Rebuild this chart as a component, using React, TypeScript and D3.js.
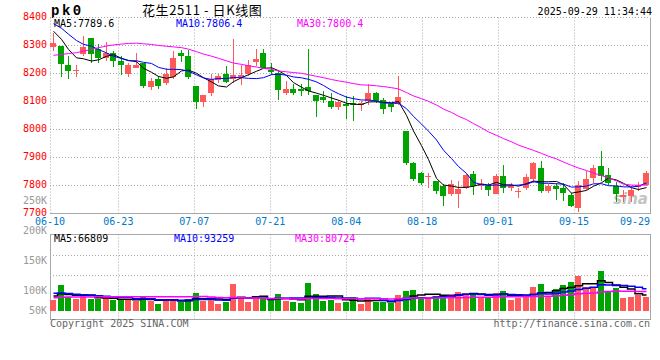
import React from "react";
import * as d3 from "d3";

// 花生2511 daily candles, 2025-06-10 .. 2025-09-29
const opens = [
  8295, 8298, 8232, 8210, 8270, 8325, 8288, 8256, 8274, 8244,
  8200, 8218, 8238, 8153, 8179, 8165, 8188, 8272, 8262, 8157,
  8098, 8131, 8176, 8197, 8181, 8188, 8197, 8241, 8272, 8214,
  8203, 8129, 8143, 8143, 8151, 8125, 8116, 8101, 8080, 8092,
  8095, 8086, 8101, 8129, 8104, 8092, 8090, 7994, 7881, 7843,
  7830, 7816, 7800, 7768, 7768, 7792, 7840, 7798, 7798, 7771,
  7834, 7792, 7777, 7792, 7825, 7861, 7780, 7798, 7790, 7765,
  7718, 7786, 7828, 7869, 7836, 7798, 7760, 7762, 7796, 7802,
];
const highs = [
  8345, 8300, 8261, 8229, 8333, 8328, 8307, 8313, 8280, 8262,
  8238, 8274, 8238, 8185, 8191, 8220, 8280, 8283, 8283, 8157,
  8122, 8197, 8197, 8226, 8324, 8232, 8248, 8288, 8288, 8236,
  8209, 8173, 8161, 8161, 8288, 8125, 8137, 8129, 8107, 8119,
  8119, 8101, 8161, 8134, 8111, 8095, 8191, 7994, 7884, 7848,
  7843, 7816, 7804, 7818, 7816, 7842, 7852, 7824, 7810, 7840,
  7875, 7810, 7792, 7840, 7884, 7887, 7804, 7810, 7808, 7772,
  7816, 7852, 7875, 7925, 7861, 7813, 7784, 7798, 7812, 7852,
];
const lows = [
  8280, 8188, 8182, 8189, 8262, 8238, 8238, 8244, 8223, 8194,
  8188, 8218, 8149, 8141, 8143, 8159, 8179, 8241, 8179, 8075,
  8080, 8119, 8167, 8167, 8167, 8160, 8191, 8226, 8220, 8193,
  8107, 8125, 8125, 8119, 8125, 8044, 8095, 8072, 8069, 8038,
  8030, 8066, 8086, 8095, 8056, 8062, 8086, 7875, 7816, 7802,
  7792, 7768, 7727, 7762, 7721, 7786, 7766, 7784, 7762, 7771,
  7774, 7780, 7754, 7784, 7808, 7774, 7774, 7750, 7744, 7724,
  7706, 7784, 7808, 7816, 7802, 7741, 7742, 7742, 7780, 7798,
];
const closes = [
  8310, 8235, 8209, 8214, 8295, 8270, 8256, 8272, 8244, 8230,
  8232, 8232, 8155, 8173, 8155, 8200, 8256, 8262, 8188, 8098,
  8122, 8179, 8191, 8169, 8193, 8193, 8232, 8253, 8220, 8205,
  8141, 8143, 8129, 8137, 8139, 8101, 8105, 8080, 8098, 8084,
  8086, 8095, 8129, 8101, 8072, 8081, 8117, 7881, 7822, 7810,
  7834, 7780, 7762, 7804, 7786, 7836, 7798, 7804, 7784, 7834,
  7792, 7798, 7780, 7830, 7879, 7780, 7798, 7786, 7772, 7727,
  7802, 7825, 7861, 7834, 7808, 7771, 7765, 7783, 7801, 7843,
];
// volume, in thousands of lots
const volumesK = [
  45.8, 108.3, 59.6, 50, 65.4, 50, 50, 55.4, 45.8, 45.8,
  45.8, 42.9, 62.5, 42.9, 29.2, 50, 45.8, 38.8, 50, 76.3,
  42.9, 50, 29.2, 38.8, 112.5, 57.1, 38.8, 50, 50, 45.8,
  70.8, 42.9, 38.8, 34.6, 117.9, 70.8, 42.9, 45.8, 34.6, 38.8,
  59.6, 29.2, 52.9, 36.3, 38.8, 34.6, 66.7, 83.3, 87.5, 59.6,
  52.9, 63.8, 66.7, 70.8, 79.2, 70.8, 76.3, 59.6, 59.6, 76.3,
  83.3, 45.8, 52.9, 62.5, 100, 112.5, 57.1, 91.7, 108.3, 120.8,
  147.1, 98.8, 94.6, 167.9, 83.3, 95.8, 55.4, 58.3, 66.7, 59.6,
];
// the 29 sessions before 06-10, estimated from where the MA lines start
const priorCloses = [
  8140, 8120, 8115, 8128, 8090, 8070, 8098, 8120, 8140, 8168,
  8200, 8225, 8240, 8260, 8290, 8320, 8345, 8350, 8366, 8385,
  8400, 8420, 8440, 8433, 8332, 8380, 8389, 8364, 8312,
];
const priorVolumesK = [
  42, 48, 45, 50, 44, 40, 47, 52, 46, 43,
  49, 45, 41, 47, 50, 44, 46, 48, 43, 50,
  95, 80, 88, 84, 80, 60, 75, 68, 64,
];

const tickLabels = ["06-10", "06-23", "07-07", "07-21", "08-04", "08-18", "09-01", "09-15", "09-29"];
const priceTicks = [8400, 8300, 8200, 8100, 8000, 7900, 7800, 7700];
const volTicks = [250000, 200000, 150000, 100000, 50000];
const maPeriods = [5, 10, 30];
const maColors = ["#000000", "#0000ff", "#ff00ff"];
const priceMaText = ["7789.6", "7806.4", "7800.4"];
const volMaText = ["66809", "93259", "80724"];

const dates = d3.timeDay
  .range(new Date(2025, 5, 10), new Date(2025, 8, 30))
  .filter((d) => d.getDay() !== 0 && d.getDay() !== 6);
const fmt = d3.timeFormat("%m-%d");

const mono = "'DejaVu Sans Mono', monospace";
const RED = "#ff5a5a";
const GREEN = "#00a400";
const GRID = "#a8a8a8";

const movingAvg = (series: number[], prior: number[], n: number) => {
  const all = prior.concat(series);
  return series.map((_, i) => {
    const end = i + prior.length + 1;
    return d3.mean(all.slice(end - n, end)) as number;
  });
};

export default function App() {
  const left = 50, right = 650;
  const priceTop = 17.5, priceBottom = 213.5;
  const volTop = 234.5, volBottom = 319.5;

  const idx = d3.range(closes.length);
  const x = d3.scaleBand<number>().domain(idx).range([left, right]).paddingInner(0.2).paddingOuter(0.1);
  const bx = (i: number) => Math.floor(x(i) as number);
  const cx = (i: number) => bx(i) + 3.5;
  // date labels / vertical grid run on their own linear scale in the original
  const xl = d3.scaleLinear().domain([0, closes.length - 1]).range([left, right]);

  const y = d3.scaleLinear().domain([7700, 8400]).range([priceBottom, priceTop]);
  const volumes = volumesK.map((v) => v * 1000);
  const vy = d3.scaleLinear().domain([0, 350000]).range([311, 227]);
  const volLabelY = d3.scaleLinear().domain([100000, 250000]).range([294, 204]);

  const priceMa = maPeriods.map((n) => movingAvg(closes, priorCloses, n));
  const volMa = maPeriods.map((n) =>
    movingAvg(volumes, priorVolumesK.map((v) => v * 1000), n)
  );

  const priceLine = d3.line<number>().x((_, i) => cx(i)).y((d) => y(d));
  const volLine = d3.line<number>().x((_, i) => cx(i)).y((d) => vy(d)).curve(d3.curveStep);

  const tickIdx = tickLabels.map((t) => dates.findIndex((d) => fmt(d) === t));
  const gx = (i: number) => Math.round(xl(i)) + 0.5;

  return (
    <svg
      width={660}
      height={360}
      style={{ position: "absolute", left: 0, top: 0, background: "#fff" }}
    >
      <rect width={660} height={360} fill="#fff" />
      {/* header */}
      <text x={51} y={15} fontFamily="'Liberation Mono', monospace" fontWeight="bold" fontSize={14} letterSpacing={2.5}>
        pk0
      </text>
      <text x={142} y={15} fontFamily="'Noto Sans CJK SC', sans-serif" fontSize={13} letterSpacing={0.6}>
        花生2511 - 日K线图
      </text>
      <text x={652} y={15} textAnchor="end" fontFamily={mono} fontSize={10}>
        2025-09-29 11:34:44
      </text>

      {/* price panel grid */}
      {priceTicks.slice(0, -1).map((p) => (
        <line key={p} x1={left} x2={right} y1={y(p)} y2={y(p)} stroke={GRID} strokeDasharray="1,2" />
      ))}
      {tickIdx.slice(1, -1).map((i) => (
        <line key={i} x1={gx(i)} x2={gx(i)} y1={priceTop} y2={priceBottom} stroke={GRID} strokeDasharray="1,2" />
      ))}
      <line x1={left + 0.5} x2={left + 0.5} y1={priceTop} y2={priceBottom} stroke={GRID} strokeDasharray="1,2" />
      <line x1={left} x2={right + 1} y1={priceBottom} y2={priceBottom} stroke={GRID} />
      <line x1={right + 0.5} x2={right + 0.5} y1={priceTop} y2={priceBottom} stroke={GRID} />
      {priceTicks.map((p) => (
        <text key={p} x={47} y={y(p) + 2} textAnchor="end" fill="#ff0000" fontFamily={mono} fontSize={10}>
          {p}
        </text>
      ))}
      <text x={648} y={204} textAnchor="end" fontFamily="'DejaVu Sans', sans-serif" fontStyle="italic" fontWeight="bold" fontSize={15} fill="#c4c4c4">
        sina
      </text>

      {/* candles */}
      {idx.map((i) => {
        const up = closes[i] >= opens[i];
        const c = up ? RED : GREEN;
        const yo = Math.round(y(opens[i]));
        const yc = Math.round(y(closes[i]));
        const yh = Math.round(y(highs[i]));
        const yl = Math.round(y(lows[i]));
        const top = Math.min(yo, yc);
        return (
          <g key={i} shapeRendering="crispEdges">
            <rect x={bx(i) + 3} y={yh} width={1} height={Math.max(1, yl - yh)} fill={c} />
            <rect x={bx(i)} y={top} width={6} height={Math.max(1, Math.abs(yo - yc))} fill={c} />
          </g>
        );
      })}
      {priceMa.map((m, k) => (
        <path key={k} d={priceLine(m) as string} fill="none" stroke={maColors[k]} strokeWidth={1} />
      ))}
      {priceMa.map((_, k) => (
        <text key={k} x={[54, 176, 297][k]} y={27} fill={maColors[k]} fontFamily={mono} fontSize={10}>
          {`MA${maPeriods[k]}:${priceMaText[k]}`}
        </text>
      ))}

      {/* date axis */}
      {tickIdx.map((i, k) => {
        const last = k === tickIdx.length - 1;
        return (
          <text key={i} x={last ? right : xl(i)} y={225} textAnchor={last ? "end" : "middle"} fill="#0078c8" fontFamily={mono} fontSize={10}>
            {tickLabels[k]}
          </text>
        );
      })}

      {/* volume panel */}
      {[1, 2].map((k) => (
        <line key={k} x1={left} x2={right} y1={Math.floor(volTop + k * 20.5) + 0.5} y2={Math.floor(volTop + k * 20.5) + 0.5} stroke={GRID} strokeDasharray="1,2" />
      ))}
      {tickIdx.slice(1, -1).map((i) => (
        <line key={i} x1={gx(i)} x2={gx(i)} y1={volTop} y2={volBottom} stroke={GRID} strokeDasharray="1,2" />
      ))}
      <rect x={left + 0.5} y={volTop} width={right - left} height={volBottom - volTop} fill="none" stroke={GRID} />
      {volTicks.map((v) => (
        <text key={v} x={47} y={Math.min(314, volLabelY(v))} textAnchor="end" fill="#999" fontFamily={mono} fontSize={10}>
          {`${v / 1000}K`}
        </text>
      ))}
      {idx.map((i) => (
        <rect
          key={i}
          x={bx(i)}
          y={Math.round(vy(volumes[i]))}
          width={6}
          height={311 - Math.round(vy(volumes[i]))}
          fill={closes[i] >= opens[i] ? RED : GREEN}
          shapeRendering="crispEdges"
        />
      ))}
      {volMa.map((m, k) => (
        <path key={k} d={volLine(m) as string} fill="none" stroke={maColors[k]} strokeWidth={1.5} />
      ))}
      {volMa.map((_, k) => (
        <text key={k} x={[54, 174, 295][k]} y={241.5} fill={maColors[k]} fontFamily={mono} fontSize={10}>
          {`MA${maPeriods[k]}:${volMaText[k]}`}
        </text>
      ))}

      {/* footer */}
      <text x={50} y={327} fill="#666" fontFamily={mono} fontSize={10}>
        Copyright 2025 SINA.COM
      </text>
      <text x={650} y={327} textAnchor="end" fill="#666" fontFamily={mono} fontSize={10}>
        http://finance.sina.com.cn
      </text>
    </svg>
  );
}
